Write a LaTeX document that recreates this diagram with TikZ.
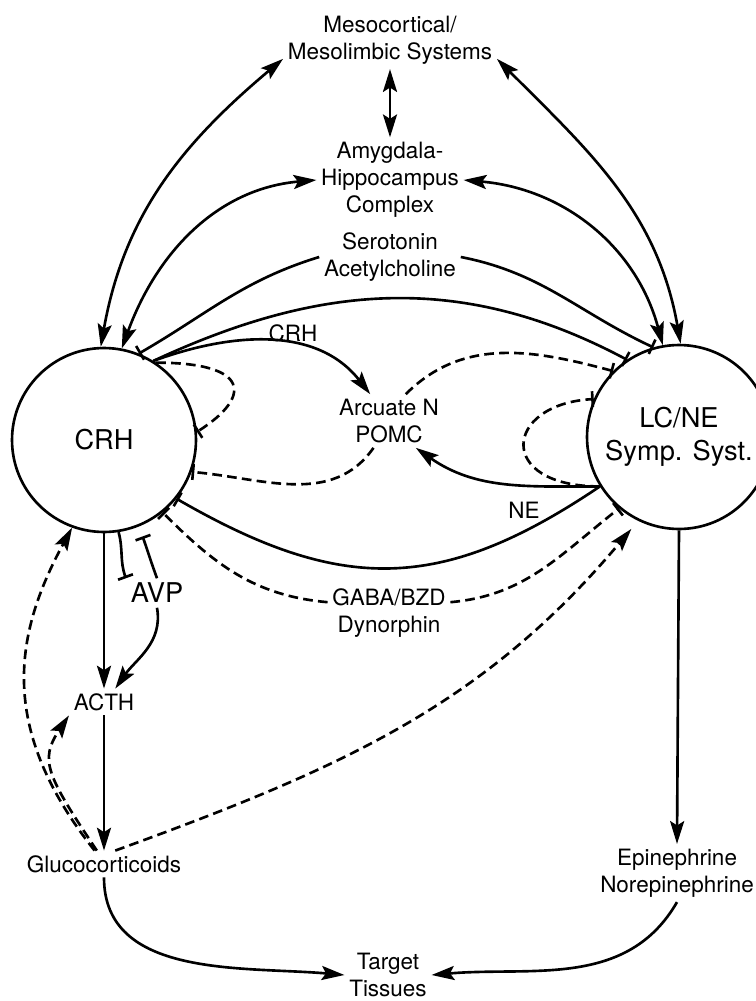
\documentclass[tikz,border=0pt]{standalone}
\usepackage{fontspec}
\setmainfont{TeX Gyre Heros}
\usetikzlibrary{arrows.meta}

\begin{document}
\begin{tikzpicture}[x=0.02cm, y=0.02cm, line width=1.5pt,
	hub/.style = {circle, draw,
		minimum size = 3.68cm,
		inner sep = 0pt, align = center,
		font = \fontsize{15.5}{18.7}\selectfont},
	lab/.style = {align = center, inner sep = 2pt,
		font = \fontsize{12.8}{15.5}\selectfont},
	act/.style = {-{Stealth[length=13pt, width=8pt, inset=2.5pt]}},
	dbl/.style = {{Stealth[length=13pt, width=8pt, inset=2.5pt]}-{Stealth[length=13pt, width=8pt, inset=2.5pt]}},
	blk/.style = {-{Bar[width=9pt]}},
	fb/.style = {dash pattern = on 5.5pt off 3pt}]

	\clip (0,0) rectangle (756,-1001);

	\node[hub] (crh) at (104,-440) {CRH};
	\node[hub] (lc) at (679,-437) {LC/NE\\Symp. Syst.};

	\node[lab] (meso) at (390,-40) {Mesocortical/\\Mesolimbic Systems};
	\node[lab] (amyg) at (390,-180) {Amygdala-\\Hippocampus\\Complex};
	\node[lab] (sero) at (390,-257) {Serotonin\\Acetylcholine};
	\node[lab] (arc) at (389,-421) {Arcuate N\\POMC};
	\node[lab] (gaba) at (389,-613) {GABA/BZD\\Dynorphin};
	\node[lab, font = \fontsize{15.5}{18}\selectfont] (avp) at (157,-593) {AVP};
	\node[lab] (acth) at (104,-702) {ACTH};
	\node[lab] (gluco) at (104,-864) {Glucocorticoids};
	\node[lab] (epi) at (677,-873) {Epinephrine\\Norepinephrine};
	\node[lab] (target) at (388,-975) {Target\\Tissues};
	\node[lab] (crhlab) at (293,-333) {CRH};
	\node[lab] (nelab) at (524,-510) {NE};

	\draw[dbl] (meso.190) to[out=220, in=80] (crh.92);
	\draw[dbl] (meso.350) to[out=-45, in=100] (lc.89);
	\draw[dbl] (meso.south) -- (amyg.north);
	\draw[dbl] (amyg.west) to[out=185, in=70] (crh.79);
	\draw[dbl] (amyg.east) to[out=-5, in=105] (lc.100);

	\draw[blk] (sero.west) to[out=197, in=30] (crh.68);
	\draw[blk] (sero.east) to[out=-11, in=155] (lc.106);
	\draw[blk] (crh.58) to[out=25, in=152] (lc.124);
	\draw[act] (crh.58) to[out=20, in=128] (arc.125);
	\draw[fb, blk] (crh.56) .. controls +(95,0) and +(55,35) .. (crh.5);
	\draw[fb, blk] (arc.240) to[out=235, in=-5] (crh.-20);
	\draw[fb, blk] (arc.58) to[out=45, in=165] (lc.135);
	\draw[fb, blk] (lc.212) .. controls +(-105,0) and +(-90,-5) .. (lc.156);
	\draw[act] (lc.212) to[out=180, in=-35] (arc.-45);
	\draw[blk] (lc.212) to[out=214, in=-30, looseness=1.15] (crh.-39);

	\draw[blk] (crh.-81) to[out=-75, in=110] (avp.north west);
	\draw[blk, shorten >=6pt] (avp.north) to[out=110, in=-70] (crh.-68);
	\draw[act] (avp.south) to[out=-80, in=55] (acth.50);
	\draw[act] (crh) -- (acth);
	\draw[act] (acth) -- (gluco);

	\draw[fb, blk] (gaba.170) to[out=175, in=-45] (crh.-51);
	\draw[fb, blk] (gaba.10) to[out=5, in=-142] (lc.230);

	\draw[fb, act] (gluco.125) .. controls +(-95,120) and +(-60,-110) .. (crh.-110);
	\draw[fb, act] (gluco.118) .. controls +(-50,75) and +(-30,-45) .. (acth.south west);
	\draw[fb, act, shorten >=6pt] (gluco.50) to[out=20, in=-130] (lc.244);

	\draw[act] (lc.south) -- (epi.north);
	\draw[act] (gluco.south) to[out=-90, in=175] (target.west);
	\draw[act] (epi.south) to[out=-120, in=5] (target.east);

\end{tikzpicture}
\end{document}
